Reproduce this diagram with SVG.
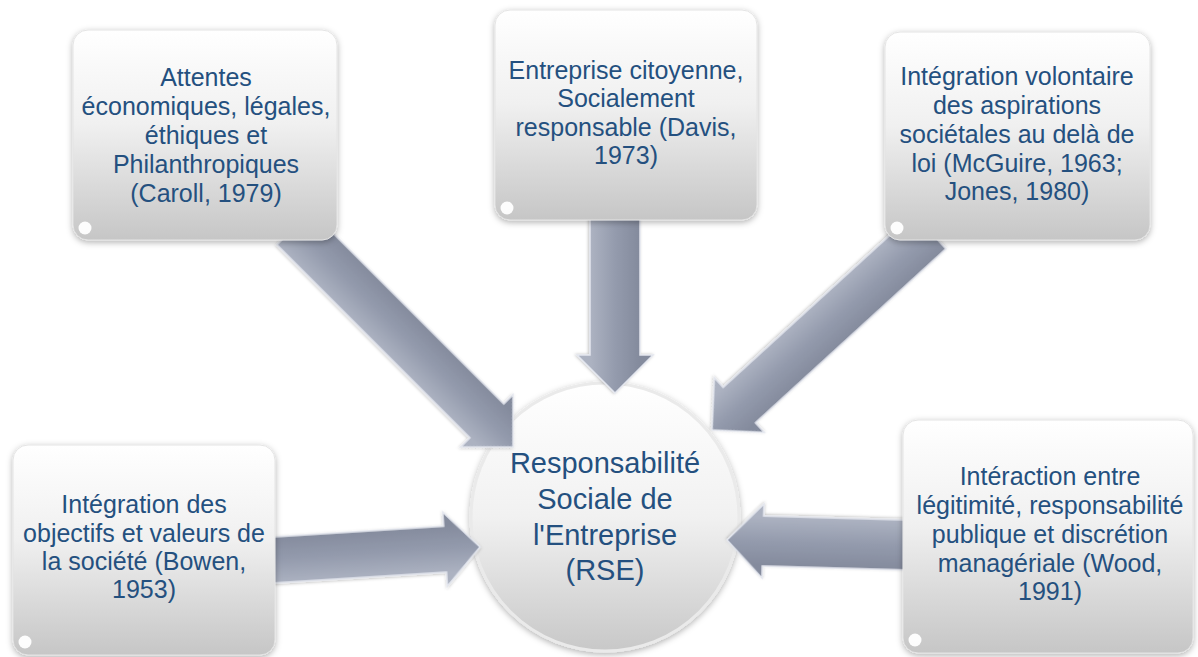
<svg xmlns="http://www.w3.org/2000/svg" width="1198" height="657" viewBox="0 0 1198 657">
  <defs>
    <linearGradient id="boxGrad" x1="0" y1="0" x2="0" y2="1">
      <stop offset="0" stop-color="#ffffff"/>
      <stop offset="0.45" stop-color="#f0f0f0"/>
      <stop offset="1" stop-color="#c6c6c6"/>
    </linearGradient>
    <linearGradient id="circGrad" x1="0" y1="0" x2="0" y2="1">
      <stop offset="0" stop-color="#ffffff"/>
      <stop offset="0.5" stop-color="#f1f1f1"/>
      <stop offset="1" stop-color="#c8c8c8"/>
    </linearGradient>
    <linearGradient id="arrowGrad" gradientUnits="userSpaceOnUse" x1="0" y1="-24" x2="0" y2="24">
      <stop offset="0" stop-color="#848b9d"/>
      <stop offset="0.5" stop-color="#949bad"/>
      <stop offset="1" stop-color="#acb2c1"/>
    </linearGradient>
    <filter id="shadow" x="-10%" y="-10%" width="120%" height="125%">
      <feDropShadow dx="0" dy="2" stdDeviation="3" flood-color="#000000" flood-opacity="0.3"/>
    </filter>
    <filter id="ashadow" x="-10%" y="-20%" width="120%" height="140%">
      <feDropShadow dx="0" dy="1" stdDeviation="1.5" flood-color="#000000" flood-opacity="0.25"/>
    </filter>
  </defs>
  <style>
    .box { fill: url(#boxGrad); stroke: #e4e4e4; stroke-width: 1; filter: url(#shadow); }
    .spot { fill: #ffffff; opacity: 0.95; }
    .circ { fill: url(#circGrad); stroke: #eaeaea; stroke-width: 3; filter: url(#shadow); }
    .arrow { fill: url(#arrowGrad); stroke: #e3e6ee; stroke-width: 1.5; stroke-linejoin: miter; filter: url(#ashadow); }
    .t { font-family: "Liberation Sans", Arial, sans-serif; font-size: 25px; fill: #24507f; text-anchor: middle; }
    .tc { font-family: "Liberation Sans", Arial, sans-serif; font-size: 29px; fill: #24507f; text-anchor: middle; }
  </style>
  <rect width="1198" height="657" fill="#ffffff"/>

  <g id="center">
    <circle class="circ" cx="605" cy="517" r="134"/>
    <text class="tc" x="605" y="473">Responsabilité</text>
    <text class="tc" x="605" y="509">Sociale de</text>
    <text class="tc" x="605" y="545">l'Entreprise</text>
    <text class="tc" x="605" y="580">(RSE)</text>
  </g>

  <g id="connectors">
    <polygon class="arrow" transform="translate(513,447) rotate(45)" points="0,0 -37,-37 -37,-24 -310,-24 -310,24 -37,24 -37,37"/>
    <polygon class="arrow" transform="translate(615,393) rotate(90)" points="0,0 -38,-38 -38,-25 -185,-25 -185,25 -38,25 -38,38"/>
    <polygon class="arrow" transform="translate(712,430) rotate(137.6)" points="0,0 -37,-37 -37,-24 -295,-24 -295,24 -37,24 -37,37"/>
    <polygon class="arrow" transform="translate(727,540) rotate(181.6)" points="0,0 -36,-37 -36,-25 -190,-25 -190,25 -36,25 -36,37"/>
    <polygon class="arrow" transform="translate(480,547) rotate(-3.6)" points="0,0 -35,-37 -35,-23 -215,-23 -215,23 -35,23 -35,37"/>
  </g>

  <g id="box-caroll">
    <rect class="box" x="73" y="30" width="264" height="210" rx="15"/>
    <circle class="spot" cx="85" cy="228" r="6.5"/>
    <text class="t" x="206" y="86">Attentes</text>
    <text class="t" x="206" y="115">économiques, légales,</text>
    <text class="t" x="206" y="144">éthiques et</text>
    <text class="t" x="206" y="173">Philanthropiques</text>
    <text class="t" x="206" y="202">(Caroll, 1979)</text>
  </g>

  <g id="box-davis">
    <rect class="box" x="495" y="10" width="262" height="210" rx="15"/>
    <circle class="spot" cx="507" cy="208" r="6.5"/>
    <text class="t" x="626" y="79">Entreprise citoyenne,</text>
    <text class="t" x="626" y="107">Socialement</text>
    <text class="t" x="626" y="136">responsable (Davis,</text>
    <text class="t" x="626" y="164">1973)</text>
  </g>

  <g id="box-mcguire">
    <rect class="box" x="885" y="32" width="265" height="208" rx="15"/>
    <circle class="spot" cx="897" cy="228" r="6.5"/>
    <text class="t" x="1017" y="85">Intégration volontaire</text>
    <text class="t" x="1017" y="114">des aspirations</text>
    <text class="t" x="1017" y="143">sociétales au delà de</text>
    <text class="t" x="1017" y="172">loi (McGuire, 1963;</text>
    <text class="t" x="1017" y="200">Jones, 1980)</text>
  </g>

  <g id="box-bowen">
    <rect class="box" x="13" y="445" width="262" height="210" rx="15"/>
    <circle class="spot" cx="25" cy="642" r="6.5"/>
    <text class="t" x="144" y="513">Intégration des</text>
    <text class="t" x="144" y="542">objectifs et valeurs de</text>
    <text class="t" x="144" y="570">la société (Bowen,</text>
    <text class="t" x="144" y="598">1953)</text>
  </g>

  <g id="box-wood">
    <rect class="box" x="903" y="420" width="290" height="233" rx="15"/>
    <circle class="spot" cx="915" cy="640" r="6.5"/>
    <text class="t" x="1050" y="485">Intéraction entre</text>
    <text class="t" x="1050" y="514">légitimité, responsabilité</text>
    <text class="t" x="1050" y="543">publique et discrétion</text>
    <text class="t" x="1050" y="572">managériale (Wood,</text>
    <text class="t" x="1050" y="600">1991)</text>
  </g>
</svg>
